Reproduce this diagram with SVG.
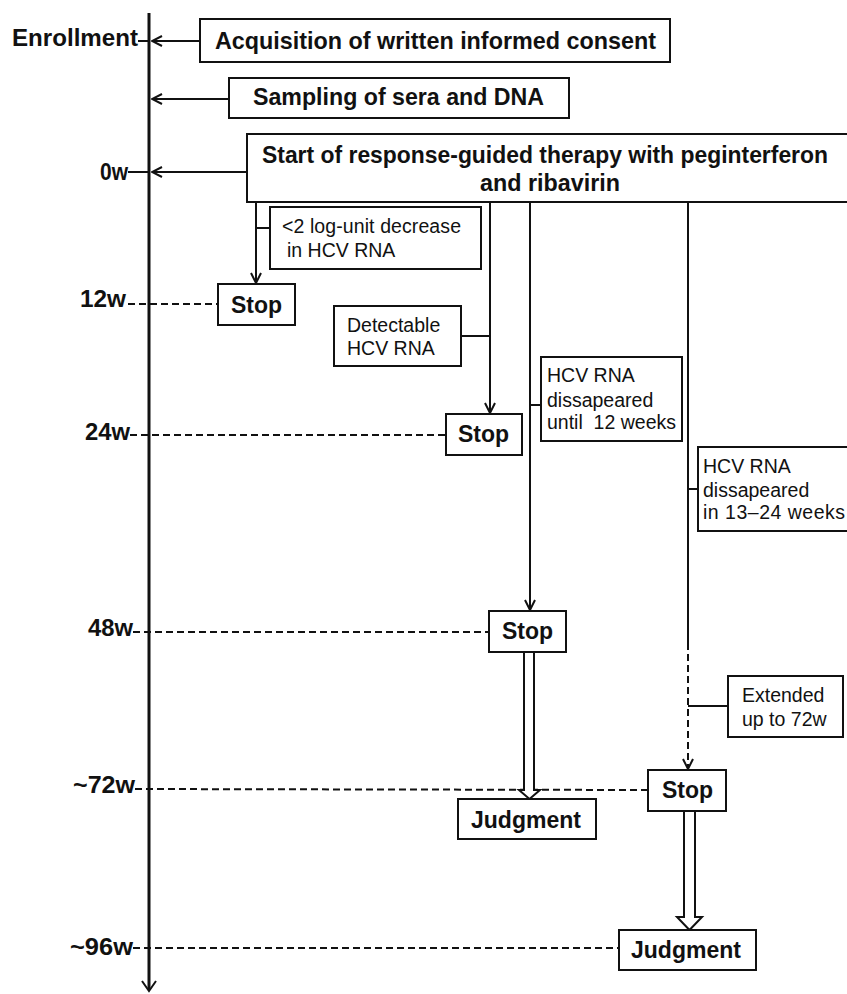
<svg xmlns="http://www.w3.org/2000/svg" width="847" height="994" viewBox="0 0 847 994">
<style>
.bx{fill:#fff;stroke:#111;stroke-width:2}
.ln{stroke:#111;stroke-width:2;fill:none}
.ds{stroke:#111;stroke-width:2;fill:none;stroke-dasharray:7,4}
.b{font-family:"Liberation Sans",Arial,sans-serif;font-weight:bold;font-size:24px;fill:#111}
.s{font-family:"Liberation Sans",Arial,sans-serif;font-size:19.5px;fill:#111}
.st{font-family:"Liberation Sans",Arial,sans-serif;font-weight:bold;font-size:23px;fill:#111}
</style>
<defs>
<marker id="ah" viewBox="0 0 12 12" refX="11" refY="6" markerWidth="12" markerHeight="12" markerUnits="userSpaceOnUse" orient="auto">
<path d="M1,1 L11,6 L1,11" fill="none" stroke="#111" stroke-width="2"/>
</marker>
</defs>
<rect width="847" height="994" fill="#fff"/>

<g id="axis">
<line x1="149" y1="13" x2="149" y2="990" stroke="#111" stroke-width="3"/>
<polyline points="142,981 149,991 156,981" class="ln"/>
<text class="b" x="12" y="46" textLength="126" lengthAdjust="spacingAndGlyphs">Enrollment</text>
<text class="b" x="100" y="180" textLength="28" lengthAdjust="spacingAndGlyphs">0w</text>
<text class="b" x="80" y="307" textLength="46" lengthAdjust="spacingAndGlyphs">12w</text>
<text class="b" x="85" y="440" textLength="45" lengthAdjust="spacingAndGlyphs">24w</text>
<text class="b" x="88" y="636" textLength="45" lengthAdjust="spacingAndGlyphs">48w</text>
<text class="b" x="73" y="793" textLength="62" lengthAdjust="spacingAndGlyphs">~72w</text>
<text class="b" x="70" y="955" textLength="63" lengthAdjust="spacingAndGlyphs">~96w</text>
</g>

<g id="connectors">
<line x1="138" y1="41" x2="149" y2="41" class="ln"/>
<line x1="200" y1="41" x2="152" y2="41" class="ln" marker-end="url(#ah)"/>
<line x1="229" y1="99" x2="152" y2="99" class="ln" marker-end="url(#ah)"/>
<line x1="128" y1="172" x2="149" y2="172" class="ln"/>
<line x1="247" y1="172" x2="152" y2="172" class="ln" marker-end="url(#ah)"/>
<line x1="128" y1="304" x2="218" y2="304" class="ds"/>
<line x1="130" y1="435" x2="446" y2="435" class="ds"/>
<line x1="133" y1="632" x2="489" y2="632" class="ds"/>
<line x1="135" y1="789" x2="648" y2="790" class="ds"/>
<line x1="133" y1="948" x2="619" y2="948" class="ds"/>
<line x1="256" y1="202" x2="256" y2="283" class="ln" marker-end="url(#ah)"/>
<line x1="256" y1="228" x2="270" y2="228" class="ln"/>
<line x1="490" y1="202" x2="490" y2="413" class="ln" marker-end="url(#ah)"/>
<line x1="461" y1="336" x2="490" y2="336" class="ln"/>
<line x1="530" y1="202" x2="530" y2="610" class="ln" marker-end="url(#ah)"/>
<line x1="530" y1="405" x2="541" y2="405" class="ln"/>
<line x1="688" y1="202" x2="688" y2="643" class="ln"/>
<line x1="688" y1="643" x2="688" y2="769" class="ds" marker-end="url(#ah)"/>
<line x1="688" y1="489" x2="698" y2="489" class="ln"/>
<line x1="688" y1="706" x2="728" y2="706" class="ln"/>
<polygon points="524,652 524,790 519,790 529.5,799 540,790 534,790 534,652" class="bx"/>
<polygon points="684,811 684,917 677,917 689.5,930 702,917 695,917 695,811" class="bx"/>
</g>

<g id="consent">
<rect x="200" y="19" width="470" height="43" class="bx"/>
<text class="b" x="215" y="49" textLength="441" lengthAdjust="spacingAndGlyphs">Acquisition of written informed consent</text>
</g>
<g id="sampling">
<rect x="229" y="78" width="340" height="40" class="bx"/>
<text class="b" x="253" y="105" textLength="291" lengthAdjust="spacingAndGlyphs">Sampling of sera and DNA</text>
</g>
<g id="start">
<path d="M847,134 H247 V202 H847" class="bx"/>
<text class="b" x="262" y="163" textLength="566" lengthAdjust="spacingAndGlyphs">Start of response-guided therapy with peginterferon</text>
<text class="b" x="480" y="191" textLength="140" lengthAdjust="spacingAndGlyphs">and ribavirin</text>
</g>
<g id="cond-log">
<rect x="270" y="207" width="211" height="62" class="bx"/>
<text class="s" x="282" y="233" textLength="179">&lt;2 log-unit decrease</text>
<text class="s" x="287" y="257">in HCV RNA</text>
</g>
<g id="stop12">
<rect x="218" y="284" width="77" height="41" class="bx"/>
<text class="st" x="231" y="313">Stop</text>
</g>
<g id="cond-detect">
<rect x="334" y="306" width="127" height="60" class="bx"/>
<text class="s" x="347" y="332">Detectable</text>
<text class="s" x="347" y="355">HCV RNA</text>
</g>
<g id="stop24">
<rect x="446" y="414" width="76" height="41" class="bx"/>
<text class="st" x="458" y="442">Stop</text>
</g>
<g id="cond-12">
<rect x="541" y="357" width="141" height="84" class="bx"/>
<text class="s" x="547" y="382">HCV RNA</text>
<text class="s" x="547" y="407">dissapeared</text>
<text class="s" x="547" y="429" xml:space="preserve">until  12 weeks</text>
</g>
<g id="cond-1324">
<path d="M847,447 H698 V531 H847" class="bx"/>
<text class="s" x="703" y="473">HCV RNA</text>
<text class="s" x="703" y="497">dissapeared</text>
<text class="s" x="703" y="519" textLength="142">in 13–24 weeks</text>
</g>
<g id="stop48">
<rect x="489" y="611" width="77" height="41" class="bx"/>
<text class="st" x="502" y="639">Stop</text>
</g>
<g id="extended">
<rect x="728" y="676" width="115" height="61" class="bx"/>
<text class="s" x="742" y="702">Extended</text>
<text class="s" x="742" y="726">up to 72w</text>
</g>
<g id="stop72">
<rect x="648" y="770" width="78" height="41" class="bx"/>
<text class="st" x="662" y="798">Stop</text>
</g>
<g id="judgment1">
<rect x="458" y="799" width="138" height="40" class="bx"/>
<text class="st" x="471" y="828">Judgment</text>
</g>
<g id="judgment2">
<rect x="619" y="930" width="137" height="40" class="bx"/>
<text class="st" x="631" y="958">Judgment</text>
</g>
</svg>
